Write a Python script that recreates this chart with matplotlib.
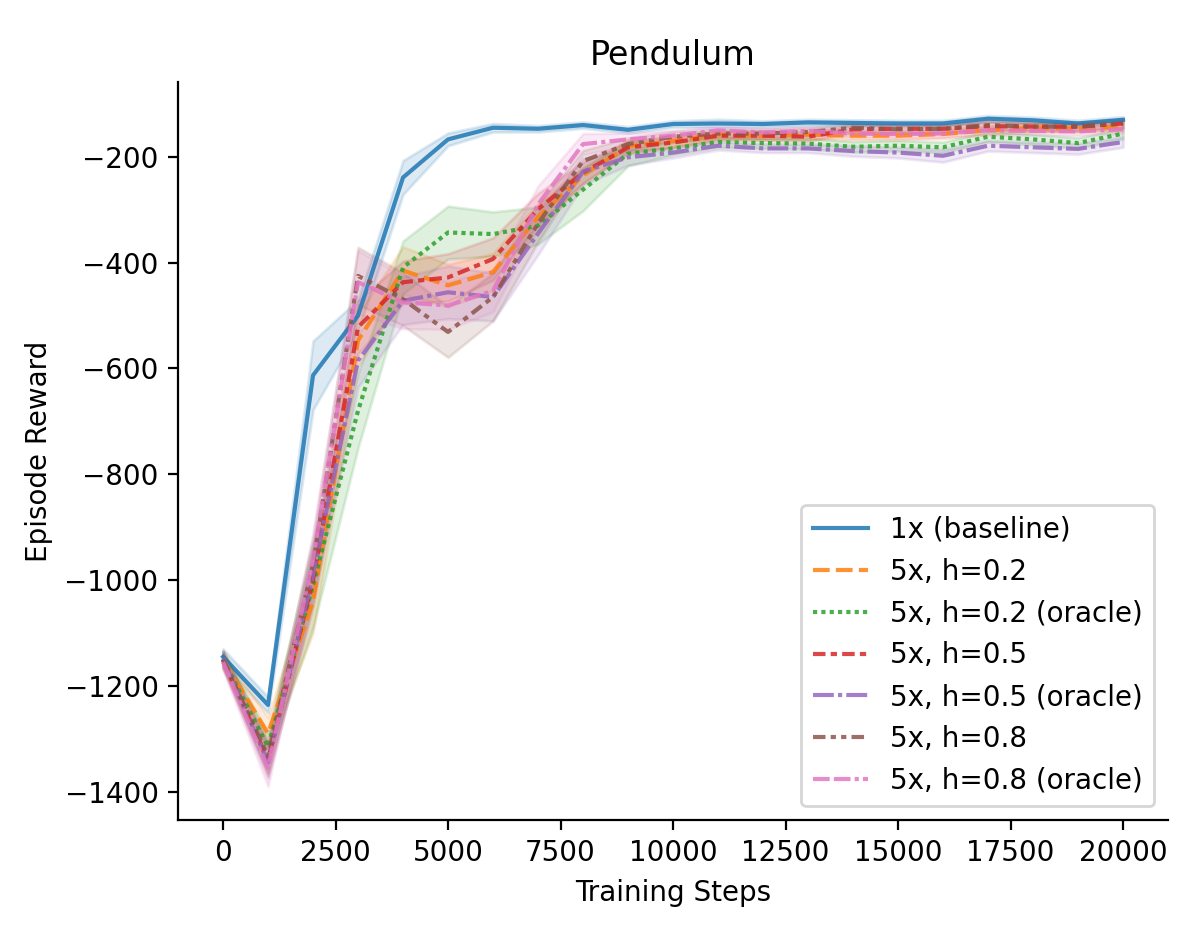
import numpy as np
import matplotlib
matplotlib.use("Agg")
import matplotlib.pyplot as plt

steps = list(range(0, 20001, 1000))

labels = [
    "1x (baseline)",
    "5x, h=0.2",
    "5x, h=0.2 (oracle)",
    "5x, h=0.5",
    "5x, h=0.5 (oracle)",
    "5x, h=0.8",
    "5x, h=0.8 (oracle)",
]

# mean episode reward per run group
baseline = [-1145, -1236, -613, -500, -239, -167, -145, -147, -140, -149, -138,
            -137, -138, -135, -136, -137, -137, -128, -131, -137, -130]
h02 = [-1150, -1290, -1040, -547, -415, -443, -418, -314, -235, -180, -170,
       -158, -160, -158, -160, -160, -157, -150, -145, -146, -143]
h02_oracle = [-1150, -1315, -1010, -680, -409, -343, -346, -330, -262, -194, -184,
              -172, -174, -175, -181, -179, -182, -162, -167, -174, -156]
h05 = [-1152, -1340, -1000, -522, -437, -428, -393, -299, -230, -182, -173,
       -160, -160, -162, -148, -147, -147, -142, -143, -143, -137]
h05_oracle = [-1148, -1345, -990, -585, -472, -456, -465, -345, -228, -201, -192,
              -179, -184, -184, -189, -192, -198, -179, -182, -185, -172]
h08 = [-1150, -1333, -970, -425, -469, -531, -465, -326, -208, -176, -162,
       -156, -156, -153, -145, -148, -147, -140, -143, -143, -137]
h08_oracle = [-1155, -1355, -960, -437, -475, -481, -453, -290, -176, -167, -160,
              -150, -154, -151, -156, -157, -156, -150, -151, -152, -148]

# half-width of the shaded band
baseline_sd = [15, 15, 65, 30, 32, 12, 8, 6, 6, 6, 6, 8, 6, 6, 6, 6, 6, 6, 6, 6, 6]
h02_sd = [15, 30, 60, 50, 45, 40, 35, 25, 15, 12, 10, 8, 8, 8, 8, 8, 8, 8, 8, 8, 8]
h02_oracle_sd = [15, 25, 80, 70, 50, 50, 42, 35, 40, 23, 12, 10, 10, 10, 10, 10, 10, 10, 10, 10, 10]
h05_sd = [15, 30, 50, 50, 40, 45, 40, 30, 20, 12, 10, 8, 8, 8, 8, 8, 8, 8, 8, 8, 8]
h05_oracle_sd = [15, 30, 50, 50, 45, 50, 45, 40, 25, 15, 10, 8, 8, 8, 10, 10, 12, 10, 10, 10, 10]
h08_sd = [15, 30, 50, 54, 50, 48, 45, 35, 20, 12, 10, 8, 8, 8, 8, 8, 8, 8, 8, 8, 8]
h08_oracle_sd = [15, 35, 50, 60, 50, 45, 40, 35, 20, 12, 10, 8, 8, 8, 8, 8, 8, 8, 8, 8, 8]

means = [baseline, h02, h02_oracle, h05, h05_oracle, h08, h08_oracle]
spreads = [baseline_sd, h02_sd, h02_oracle_sd, h05_sd, h05_oracle_sd, h08_sd, h08_oracle_sd]

colors = ["#1f77b4", "#ff7f0e", "#2ca02c", "#d62728", "#9467bd", "#8c564b", "#e377c2"]
# seaborn-style dash sequence
dashes = [(), (4, 1.5), (1, 1), (3, 1.25, 1.5, 1.25), (5, 1, 1, 1),
          (3, 1.25, 1.25, 1.25, 1.25, 1.25), (4, 1, 4, 1, 1, 1)]

fig, ax = plt.subplots(figsize=(5.99, 4.66), dpi=200)
fig.subplots_adjust(left=0.1486, right=0.975, bottom=0.1202, top=0.912)

x = np.array(steps)
for lab, m, s, c, d in zip(labels, means, spreads, colors, dashes):
    m = np.array(m, dtype=float)
    s = np.array(s, dtype=float)
    ax.fill_between(x, m - s, m + s, color=c, alpha=0.15, linewidth=1)
    line, = ax.plot(x, m, color=c, alpha=0.85, lw=1.5, label=lab)
    if d:
        line.set_dashes(d)

ax.set_title("Pendulum", fontsize=12)
ax.set_xlabel("Training Steps")
ax.set_ylabel("Episode Reward")
ax.spines["top"].set_visible(False)
ax.spines["right"].set_visible(False)
ax.legend(loc="lower right")

fig.savefig("out.png", dpi=200)
